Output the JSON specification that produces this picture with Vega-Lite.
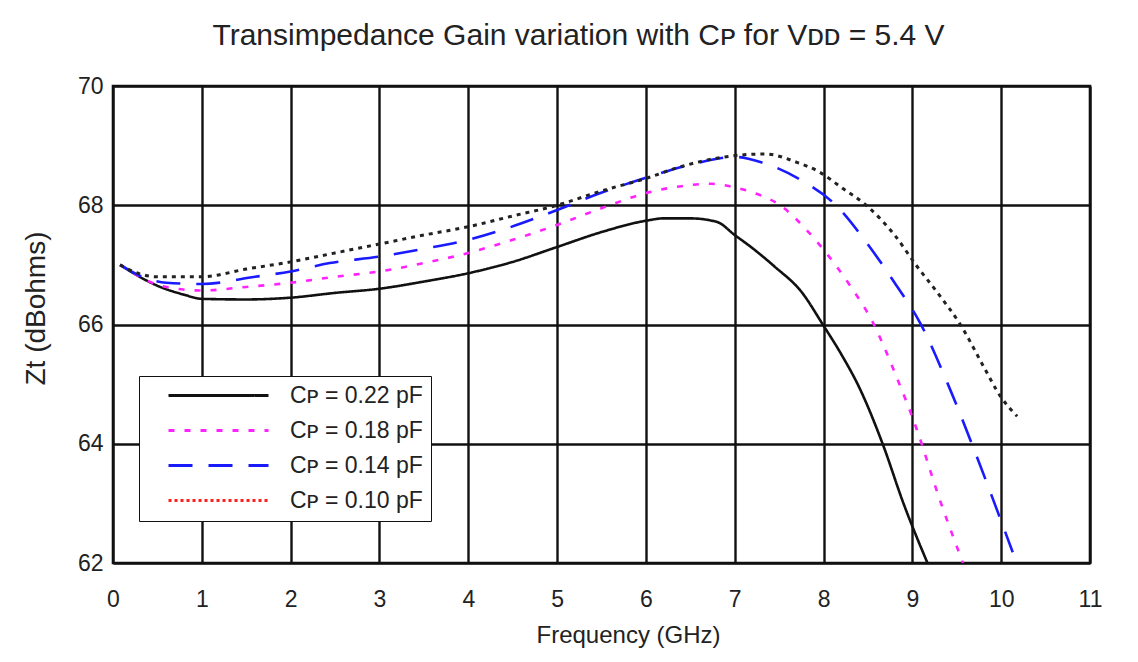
{
  "$schema": "https://vega.github.io/schema/vega-lite/v6.json",
  "autosize": {"type": "none"},
  "width": 977,
  "height": 477,
  "padding": {"left": 113, "top": 86, "right": 48, "bottom": 99},
  "background": "white",
  "title": {
    "text": "Transimpedance Gain variation with Cᴘ for Vᴅᴅ = 5.4 V",
    "font": "Liberation Sans",
    "fontSize": 30,
    "fontWeight": "normal",
    "color": "#222222",
    "anchor": "middle",
    "dx": -23,
    "offset": 24
  },
  "config": {
    "font": "Liberation Sans",
    "view": {"stroke": "#111111", "strokeWidth": 2.6},
    "axis": {
      "grid": true,
      "gridColor": "#111111",
      "gridWidth": 2.4,
      "gridOpacity": 1,
      "domain": false,
      "ticks": false,
      "labelFont": "Liberation Sans",
      "labelFontSize": 23,
      "labelColor": "#222222",
      "labelFlush": false,
      "titleFont": "Liberation Sans",
      "titleFontSize": 24,
      "titleFontWeight": "normal",
      "titleColor": "#222222"
    }
  },
  "datasets": {
    "curves": [
      {"cp": "0.22", "f": 0.08, "zt": 67.0},
      {"cp": "0.22", "f": 0.3, "zt": 66.8},
      {"cp": "0.22", "f": 0.5, "zt": 66.65},
      {"cp": "0.22", "f": 0.8, "zt": 66.5},
      {"cp": "0.22", "f": 1.0, "zt": 66.43},
      {"cp": "0.22", "f": 1.5, "zt": 66.42},
      {"cp": "0.22", "f": 2.0, "zt": 66.45},
      {"cp": "0.22", "f": 2.5, "zt": 66.53},
      {"cp": "0.22", "f": 3.0, "zt": 66.6},
      {"cp": "0.22", "f": 3.5, "zt": 66.72},
      {"cp": "0.22", "f": 4.0, "zt": 66.86},
      {"cp": "0.22", "f": 4.5, "zt": 67.05},
      {"cp": "0.22", "f": 5.0, "zt": 67.3},
      {"cp": "0.22", "f": 5.5, "zt": 67.55},
      {"cp": "0.22", "f": 6.0, "zt": 67.74},
      {"cp": "0.22", "f": 6.2, "zt": 67.78},
      {"cp": "0.22", "f": 6.5, "zt": 67.78},
      {"cp": "0.22", "f": 6.8, "zt": 67.72},
      {"cp": "0.22", "f": 7.0, "zt": 67.5},
      {"cp": "0.22", "f": 7.2, "zt": 67.28},
      {"cp": "0.22", "f": 7.45, "zt": 66.97},
      {"cp": "0.22", "f": 7.75, "zt": 66.55},
      {"cp": "0.22", "f": 8.0, "zt": 65.98},
      {"cp": "0.22", "f": 8.2, "zt": 65.5},
      {"cp": "0.22", "f": 8.4, "zt": 64.95},
      {"cp": "0.22", "f": 8.67, "zt": 63.98},
      {"cp": "0.22", "f": 8.9, "zt": 63.0},
      {"cp": "0.22", "f": 9.17, "zt": 62.0},

      {"cp": "0.18", "f": 0.08, "zt": 67.0},
      {"cp": "0.18", "f": 0.3, "zt": 66.8},
      {"cp": "0.18", "f": 0.56, "zt": 66.64},
      {"cp": "0.18", "f": 1.0, "zt": 66.57},
      {"cp": "0.18", "f": 1.5, "zt": 66.63},
      {"cp": "0.18", "f": 2.0, "zt": 66.7},
      {"cp": "0.18", "f": 2.5, "zt": 66.8},
      {"cp": "0.18", "f": 3.0, "zt": 66.89},
      {"cp": "0.18", "f": 3.5, "zt": 67.03},
      {"cp": "0.18", "f": 4.0, "zt": 67.2},
      {"cp": "0.18", "f": 4.5, "zt": 67.42},
      {"cp": "0.18", "f": 5.0, "zt": 67.67},
      {"cp": "0.18", "f": 5.5, "zt": 67.95},
      {"cp": "0.18", "f": 6.04, "zt": 68.22},
      {"cp": "0.18", "f": 6.4, "zt": 68.32},
      {"cp": "0.18", "f": 6.73, "zt": 68.36},
      {"cp": "0.18", "f": 7.0, "zt": 68.3},
      {"cp": "0.18", "f": 7.19, "zt": 68.22},
      {"cp": "0.18", "f": 7.53, "zt": 67.98},
      {"cp": "0.18", "f": 7.8, "zt": 67.6},
      {"cp": "0.18", "f": 8.03, "zt": 67.2},
      {"cp": "0.18", "f": 8.3, "zt": 66.65},
      {"cp": "0.18", "f": 8.55, "zt": 66.05},
      {"cp": "0.18", "f": 8.8, "zt": 65.2},
      {"cp": "0.18", "f": 9.05, "zt": 64.24},
      {"cp": "0.18", "f": 9.3, "zt": 63.1},
      {"cp": "0.18", "f": 9.57, "zt": 62.0},

      {"cp": "0.14", "f": 0.08, "zt": 67.0},
      {"cp": "0.14", "f": 0.3, "zt": 66.82},
      {"cp": "0.14", "f": 0.6, "zt": 66.7},
      {"cp": "0.14", "f": 1.0, "zt": 66.68},
      {"cp": "0.14", "f": 1.6, "zt": 66.8},
      {"cp": "0.14", "f": 2.0, "zt": 66.89},
      {"cp": "0.14", "f": 2.44, "zt": 67.03},
      {"cp": "0.14", "f": 3.0, "zt": 67.14},
      {"cp": "0.14", "f": 3.5, "zt": 67.27},
      {"cp": "0.14", "f": 4.0, "zt": 67.42},
      {"cp": "0.14", "f": 4.47, "zt": 67.63},
      {"cp": "0.14", "f": 5.0, "zt": 67.92},
      {"cp": "0.14", "f": 5.48, "zt": 68.2},
      {"cp": "0.14", "f": 6.04, "zt": 68.48},
      {"cp": "0.14", "f": 6.5, "zt": 68.68},
      {"cp": "0.14", "f": 7.0, "zt": 68.81},
      {"cp": "0.14", "f": 7.3, "zt": 68.72},
      {"cp": "0.14", "f": 7.76, "zt": 68.41},
      {"cp": "0.14", "f": 8.14, "zt": 68.0},
      {"cp": "0.14", "f": 8.51, "zt": 67.32},
      {"cp": "0.14", "f": 8.8, "zt": 66.7},
      {"cp": "0.14", "f": 9.09, "zt": 66.02},
      {"cp": "0.14", "f": 9.4, "zt": 65.0},
      {"cp": "0.14", "f": 9.68, "zt": 63.96},
      {"cp": "0.14", "f": 9.9, "zt": 63.1},
      {"cp": "0.14", "f": 10.13, "zt": 62.18},

      {"cp": "0.10", "f": 0.08, "zt": 67.0},
      {"cp": "0.10", "f": 0.3, "zt": 66.85},
      {"cp": "0.10", "f": 0.5, "zt": 66.8},
      {"cp": "0.10", "f": 1.0, "zt": 66.8},
      {"cp": "0.10", "f": 1.5, "zt": 66.93},
      {"cp": "0.10", "f": 2.0, "zt": 67.05},
      {"cp": "0.10", "f": 2.5, "zt": 67.2},
      {"cp": "0.10", "f": 3.0, "zt": 67.35},
      {"cp": "0.10", "f": 3.5, "zt": 67.5},
      {"cp": "0.10", "f": 4.0, "zt": 67.64},
      {"cp": "0.10", "f": 4.5, "zt": 67.82},
      {"cp": "0.10", "f": 5.0, "zt": 68.0},
      {"cp": "0.10", "f": 5.5, "zt": 68.24},
      {"cp": "0.10", "f": 5.98, "zt": 68.44},
      {"cp": "0.10", "f": 6.4, "zt": 68.65},
      {"cp": "0.10", "f": 6.84, "zt": 68.8},
      {"cp": "0.10", "f": 7.34, "zt": 68.86},
      {"cp": "0.10", "f": 7.7, "zt": 68.72},
      {"cp": "0.10", "f": 7.95, "zt": 68.56},
      {"cp": "0.10", "f": 8.2, "zt": 68.3},
      {"cp": "0.10", "f": 8.48, "zt": 68.0},
      {"cp": "0.10", "f": 8.8, "zt": 67.5},
      {"cp": "0.10", "f": 9.04, "zt": 67.0},
      {"cp": "0.10", "f": 9.3, "zt": 66.5},
      {"cp": "0.10", "f": 9.54, "zt": 66.0},
      {"cp": "0.10", "f": 9.8, "zt": 65.3},
      {"cp": "0.10", "f": 9.99, "zt": 64.8},
      {"cp": "0.10", "f": 10.18, "zt": 64.46}
    ]
  },
  "data": {"name": "curves"},
  "encoding": {
    "x": {
      "field": "f",
      "type": "quantitative",
      "scale": {"domain": [0, 11], "nice": false, "zero": false},
      "axis": {
        "values": [0, 1, 2, 3, 4, 5, 6, 7, 8, 9, 10, 11],
        "title": "Frequency (GHz)",
        "titleX": 515,
        "labelPadding": 25,
        "titlePadding": 12
      }
    },
    "y": {
      "field": "zt",
      "type": "quantitative",
      "scale": {"domain": [62, 70], "nice": false, "zero": false},
      "axis": {
        "values": [62, 64, 66, 68, 70],
        "title": "Zt (dBohms)",
        "titleFontSize": 28,
        "titleY": 222,
        "labelPadding": 10,
        "titlePadding": 27
      }
    }
  },
  "layer": [
    {
      "transform": [{"filter": "datum.cp != '0.10'"}],
      "mark": {"type": "line", "interpolate": "monotone", "strokeWidth": 2.6, "clip": true},
      "encoding": {
        "color": {
          "field": "cp",
          "type": "nominal",
          "scale": {
            "domain": ["0.22", "0.18", "0.14", "0.10"],
            "range": ["#111111", "#ff22ff", "#1a1aff", "#ff2020"]
          },
          "legend": {
            "orient": "none",
            "legendX": 26,
            "legendY": 290,
            "title": null,
            "direction": "vertical",
            "symbolType": "M-10,0H10",
            "symbolSize": 100,
            "symbolStrokeWidth": 2.8,
            "symbolOffset": 60,
            "labelOffset": 60,
            "labelFont": "Liberation Sans",
            "labelFontSize": 23,
            "labelColor": "#222222",
            "labelLimit": 300,
            "labelExpr": "'Cᴘ = ' + datum.label + ' pF\u00a0\u00a0'",
            "rowPadding": 11,
            "padding": 8,
            "strokeColor": "#111111",
            "fillColor": "white",
            "offset": 0
          }
        },
        "strokeDash": {
          "field": "cp",
          "type": "nominal",
          "scale": {
            "domain": ["0.22", "0.18", "0.14", "0.10"],
            "range": [[1, 0], [6, 10], [24, 16], [3, 3]]
          },
          "legend": null
        },
        "strokeWidth": {
          "condition": {"test": "datum.cp == '0.22'", "value": 2.2},
          "value": 3.2
        }
      }
    },
    {
      "transform": [{"filter": "datum.cp == '0.10'"}],
      "mark": {
        "type": "line",
        "interpolate": "monotone",
        "color": "#222222",
        "strokeWidth": 3,
        "strokeDash": [4, 5],
        "clip": true
      },
      "encoding": {}
    }
  ]
}
